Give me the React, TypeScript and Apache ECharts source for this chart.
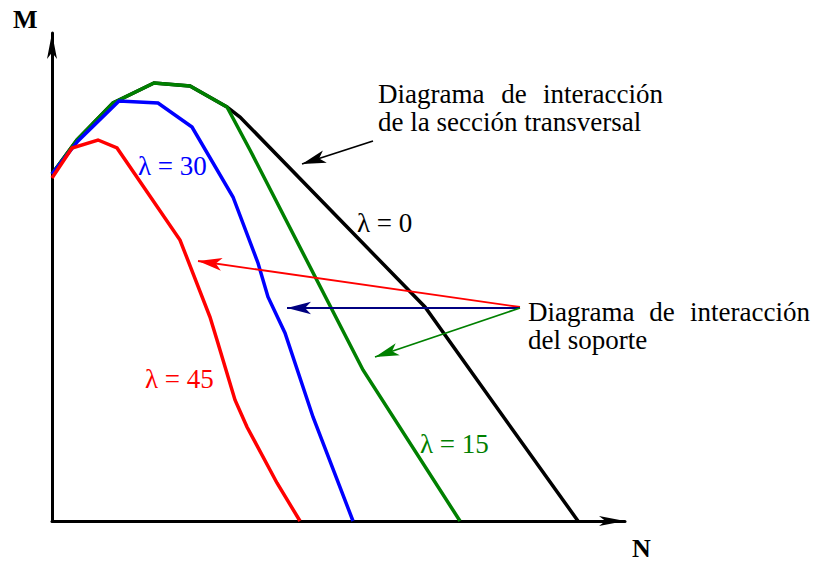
import React, { useEffect, useRef } from "react";
import * as echarts from "echarts";

// Interaction diagrams M–N (axial force N, bending moment M) for slenderness λ.
// Units are arbitrary diagram units.
const lambda0N = [0, 25, 61, 102, 138, 175, 188, 373, 438, 526];
const lambda0M = [347, 381, 418, 438, 435, 414, 404, 214, 123, 0];

const lambda15N = [0, 25, 61, 102, 138, 175, 198, 311, 408];
const lambda15M = [347, 381, 418, 438, 435, 414, 371, 151, 0];

const lambda30N = [0, 26, 67, 106, 140, 181, 206, 216, 233, 261, 301];
const lambda30M = [347, 380, 420, 418, 394, 324, 258, 224, 188, 104, 0];

const lambda45N = [0, 20, 46, 65, 128, 158, 165, 183, 195, 225, 248];
const lambda45M = [343, 373, 381, 373, 281, 204, 181, 121, 94, 38, 0];

const N_MAX = 573;
const M_MAX = 488;

const SERIF = "'Liberation Serif', 'Times New Roman', serif";

// Pointer arrows: tail -> tip, in diagram units
const pointers = [
  { from: [321, 380], to: [250, 357], color: "#000000" },
  { from: [468, 214], to: [146, 260], color: "#ff0000" },
  { from: [468, 213], to: [235, 213], color: "#000080" },
  { from: [468, 213], to: [323, 164], color: "#008000" },
];

const zip = (xs: number[], ys: number[]) => xs.map((x, i) => [x, ys[i]]);

function curve(name: string, xs: number[], ys: number[], color: string, z: number) {
  return {
    name,
    type: "line",
    data: zip(xs, ys),
    showSymbol: false,
    symbol: "none",
    clip: false,
    z,
    lineStyle: { color, width: 3.5, cap: "butt", join: "miter" },
    emphasis: { disabled: true },
  };
}

function pointerLine(p: { from: number[]; to: number[]; color: string }) {
  return [
    { coord: p.from, lineStyle: { color: p.color, width: 1.8, type: "solid" }, itemStyle: { color: p.color } },
    { coord: p.to },
  ];
}

function txt(text: string, x: number, y: number, color: string, align = "left", bold = false) {
  return {
    type: "text",
    x,
    y,
    silent: true,
    style: {
      text,
      fill: color,
      fontFamily: SERIF,
      fontSize: bold ? 26 : 27,
      lineHeight: 26,
      fontWeight: bold ? "bold" : "normal",
      align,
      textAlign: align,
      verticalAlign: "middle",
      textVerticalAlign: "middle",
    },
  };
}

export default function App() {
  const ref = useRef<HTMLDivElement>(null);

  useEffect(() => {
    if (!ref.current) return;
    const chart = echarts.init(ref.current, undefined, { renderer: "svg" });
    const hiddenAxis = {
      type: "value",
      min: 0,
      axisTick: { show: false },
      axisLabel: { show: false },
      splitLine: { show: false },
    };
    chart.setOption({
      animation: false,
      backgroundColor: "#ffffff",
      grid: { left: 52, right: 188, top: 33, bottom: 40 },
      xAxis: {
        ...hiddenAxis,
        max: N_MAX,
        axisLine: {
          show: true,
          symbol: ["none", "arrow"],
          symbolSize: [7.5, 26],
          lineStyle: { color: "#000000", width: 3 },
        },
      },
      yAxis: {
        ...hiddenAxis,
        max: M_MAX,
        axisLine: {
          show: true,
          symbol: ["none", "arrow"],
          symbolSize: [7.5, 26],
          lineStyle: { color: "#000000", width: 3 },
        },
      },
      series: [
        curve("λ = 0", lambda0N, lambda0M, "#000000", 2),
        curve("λ = 15", lambda15N, lambda15M, "#008000", 3),
        curve("λ = 30", lambda30N, lambda30M, "#0000ff", 4),
        curve("λ = 45", lambda45N, lambda45M, "#ff0000", 5),
        {
          type: "line",
          data: [],
          z: 6,
          markLine: {
            silent: true,
            animation: false,
            symbol: ["none", "arrow"],
            symbolSize: [9.5, 24],
            label: { show: false },
            emphasis: { disabled: true },
            data: pointers.map(pointerLine),
          },
        },
      ],
      graphic: [
        txt("M", 13, 19, "#000000", "left", true),
        txt("N", 632, 548, "#000000", "left", true),
        txt("Diagrama", 378, 94, "#000000", "left"),
        txt("de", 514, 94, "#000000", "center"),
        txt("interacción", 663, 94, "#000000", "right"),
        txt("de la sección transversal", 378, 122, "#000000", "left"),
        txt("Diagrama", 528, 312, "#000000", "left"),
        txt("de", 662, 312, "#000000", "center"),
        txt("interacción", 810, 312, "#000000", "right"),
        txt("del soporte", 528, 340, "#000000", "left"),
        txt("λ = 30", 138, 166, "#0000ff"),
        txt("λ = 0", 357, 223, "#000000"),
        txt("λ = 45", 145, 379, "#ff0000"),
        txt("λ = 15", 420, 444, "#008000"),
      ],
    });
    return () => chart.dispose();
  }, []);

  return (
    <div
      ref={ref}
      style={{ position: "fixed", left: 0, top: 0, width: 813, height: 561, background: "#fff" }}
    />
  );
}
